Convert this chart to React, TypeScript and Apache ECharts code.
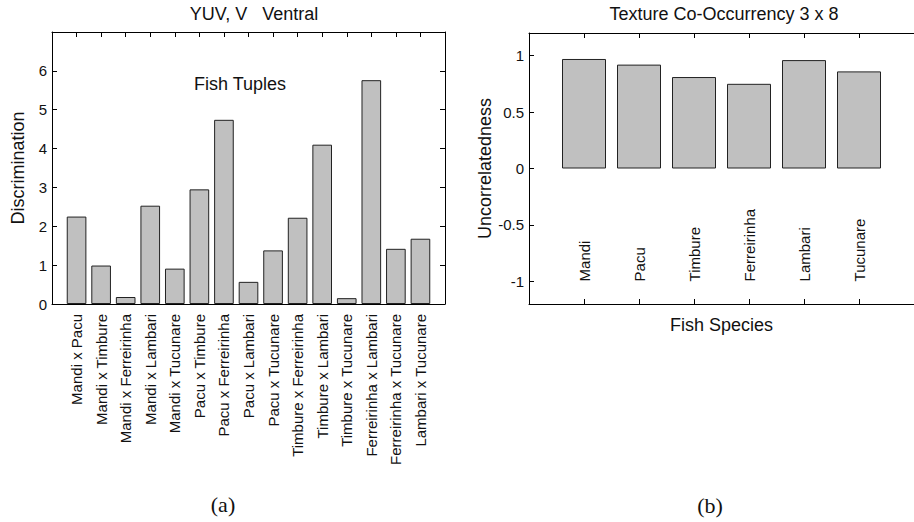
import React, { useEffect, useRef } from 'react';
import * as echarts from 'echarts';

// ---- Data ----
const tupleCategories = [
  'Mandi x Pacu',
  'Mandi x Timbure',
  'Mandi x Ferreirinha',
  'Mandi x Lambari',
  'Mandi x Tucunare',
  'Pacu x Timbure',
  'Pacu x Ferreirinha',
  'Pacu x Lambari',
  'Pacu x Tucunare',
  'Timbure x Ferreirinha',
  'Timbure x Lambari',
  'Timbure x Tucunare',
  'Ferreirinha x Lambari',
  'Ferreirinha x Tucunare',
  'Lambari x Tucunare',
];
const discrimination = [2.25, 0.99, 0.18, 2.53, 0.91, 2.95, 4.74, 0.57, 1.38, 2.22, 4.1, 0.15, 5.76, 1.42, 1.68];

const speciesCategories = ['Mandi', 'Pacu', 'Timbure', 'Ferreirinha', 'Lambari', 'Tucunare'];
const uncorrelatedness = [0.97, 0.92, 0.81, 0.75, 0.96, 0.86];

const leftYTicks = [0, 1, 2, 3, 4, 5, 6];
const rightYTicks = [-1, -0.5, 0, 0.5, 1];

const leftTitle = 'YUV, V   Ventral';
const leftInnerText = 'Fish Tuples';
const leftYName = 'Discrimination';
const rightTitle = 'Texture Co-Occurrency 3 x 8';
const rightYName = 'Uncorrelatedness';
const rightXName = 'Fish Species';

// ---- Styles ----
const FONT = "'Liberation Sans', Arial, Helvetica, sans-serif";
const SERIF = "'Liberation Serif', 'DejaVu Serif', serif";
const TXT = '#111';
const BAR_FILL = '#c0c0c0';
const BAR_EDGE = '#222';

const tupleTickPositions = tupleCategories.map((_, i) => i + 1);
const speciesTickPositions = speciesCategories.map((_, i) => i + 1);

const lineStyle = { color: '#000', width: 1 };

function buildOption(): any {
  return {
    animation: false,
    backgroundColor: '#fff',
    textStyle: { fontFamily: FONT, color: TXT },
    grid: [
      { left: 52, top: 32, width: 393, height: 272 },
      { left: 529, top: 33, width: 392, height: 271 },
    ],
    xAxis: [
      {
        gridIndex: 0,
        type: 'value',
        position: 'bottom',
        min: 0,
        max: 16,
        axisLine: { show: true, onZero: false, lineStyle },
        axisTick: { show: true, inside: true, length: 5, customValues: tupleTickPositions, lineStyle },
        axisLabel: {
          show: true,
          customValues: tupleTickPositions,
          rotate: 90,
          margin: 10,
          fontSize: 15,
          fontFamily: FONT,
          color: TXT,
          formatter: (v: number) => tupleCategories[Math.round(v) - 1] ?? '',
        },
        splitLine: { show: false },
      },
      {
        gridIndex: 0,
        type: 'value',
        position: 'top',
        min: 0,
        max: 16,
        axisLine: { show: true, onZero: false, lineStyle },
        axisTick: { show: true, inside: true, length: 5, customValues: tupleTickPositions, lineStyle },
        axisLabel: { show: false },
        splitLine: { show: false },
      },
      {
        gridIndex: 1,
        type: 'value',
        position: 'bottom',
        min: 0,
        max: 7,
        name: rightXName,
        nameLocation: 'middle',
        nameGap: 12,
        nameTextStyle: { fontSize: 18, fontFamily: FONT, color: TXT, verticalAlign: 'top' },
        axisLine: { show: true, onZero: false, lineStyle },
        axisTick: { show: true, inside: true, length: 5, customValues: speciesTickPositions, lineStyle },
        axisLabel: { show: false },
        splitLine: { show: false },
      },
      {
        gridIndex: 1,
        type: 'value',
        position: 'top',
        min: 0,
        max: 7,
        axisLine: { show: true, onZero: false, lineStyle },
        axisTick: { show: true, inside: true, length: 5, customValues: speciesTickPositions, lineStyle },
        axisLabel: { show: false },
        splitLine: { show: false },
      },
    ],
    yAxis: [
      {
        gridIndex: 0,
        type: 'value',
        position: 'left',
        min: 0,
        max: 7,
        name: leftYName,
        nameLocation: 'middle',
        nameGap: 25,
        nameTextStyle: { fontSize: 18, fontFamily: FONT, color: TXT },
        axisLine: { show: true, onZero: false, lineStyle },
        axisTick: { show: true, inside: true, length: 5, customValues: leftYTicks, lineStyle },
        axisLabel: { show: true, customValues: leftYTicks, margin: 5, fontSize: 15, fontFamily: FONT, color: TXT },
        splitLine: { show: false },
      },
      {
        gridIndex: 0,
        type: 'value',
        position: 'right',
        min: 0,
        max: 7,
        axisLine: { show: true, onZero: false, lineStyle },
        axisTick: { show: true, inside: true, length: 5, customValues: leftYTicks, lineStyle },
        axisLabel: { show: false },
        splitLine: { show: false },
      },
      {
        gridIndex: 1,
        type: 'value',
        position: 'left',
        min: -1.2,
        max: 1.2,
        name: rightYName,
        nameLocation: 'middle',
        nameGap: 33,
        nameTextStyle: { fontSize: 18, fontFamily: FONT, color: TXT },
        axisLine: { show: true, onZero: false, lineStyle },
        axisTick: { show: true, inside: true, length: 5, customValues: rightYTicks, lineStyle },
        axisLabel: { show: true, customValues: rightYTicks, margin: 5, fontSize: 15, fontFamily: FONT, color: TXT },
        splitLine: { show: false },
      },
    ],
    series: [
      {
        type: 'bar',
        xAxisIndex: 0,
        yAxisIndex: 0,
        barWidth: '80%',
        data: discrimination.map((v, i) => [i + 1, v]),
        itemStyle: { color: BAR_FILL, borderColor: BAR_EDGE, borderWidth: 1 },
        z: 3,
      },
      {
        type: 'bar',
        xAxisIndex: 2,
        yAxisIndex: 2,
        barWidth: '80%',
        data: uncorrelatedness.map((v, i) => [i + 1, v]),
        itemStyle: { color: BAR_FILL, borderColor: BAR_EDGE, borderWidth: 1 },
        z: 3,
      },
      {
        type: 'custom',
        xAxisIndex: 2,
        yAxisIndex: 2,
        data: speciesCategories.map((_, i) => [i + 1, -1]),
        renderItem: (params: any, api: any) => {
          const p = api.coord([api.value(0), api.value(1)]);
          return {
            type: 'text',
            x: p[0],
            y: p[1],
            rotation: Math.PI / 2,
            style: {
              text: speciesCategories[params.dataIndex],
              align: 'left',
              verticalAlign: 'middle',
              fontSize: 15,
              fontFamily: FONT,
              fill: TXT,
            },
          };
        },
        z: 4,
      },
    ],
    graphic: [
      {
        type: 'text',
        x: 254,
        y: 14,
        style: { text: leftTitle, align: 'center', verticalAlign: 'middle', fontSize: 18, fontFamily: FONT, fill: TXT },
      },
      {
        type: 'text',
        x: 724,
        y: 14,
        style: { text: rightTitle, align: 'center', verticalAlign: 'middle', fontSize: 18, fontFamily: FONT, fill: TXT },
      },
      {
        type: 'text',
        x: 240,
        y: 84,
        style: { text: leftInnerText, align: 'center', verticalAlign: 'middle', fontSize: 18, fontFamily: FONT, fill: TXT },
      },
      {
        type: 'text',
        x: 223,
        y: 504,
        style: { text: '(a)', align: 'center', verticalAlign: 'middle', fontSize: 22, fontFamily: SERIF, fill: '#111' },
      },
      {
        type: 'text',
        x: 710,
        y: 505,
        style: { text: '(b)', align: 'center', verticalAlign: 'middle', fontSize: 22, fontFamily: SERIF, fill: '#111' },
      },
    ],
  };
}

export default function App() {
  const ref = useRef<HTMLDivElement>(null);
  useEffect(() => {
    if (!ref.current) return;
    const chart = echarts.init(ref.current, null, { renderer: 'svg' });
    chart.setOption(buildOption());
    return () => chart.dispose();
  }, []);
  return (
    <div
      ref={ref}
      style={{ position: 'fixed', left: 0, top: 0, width: 914, height: 522, background: '#fff' }}
    />
  );
}
